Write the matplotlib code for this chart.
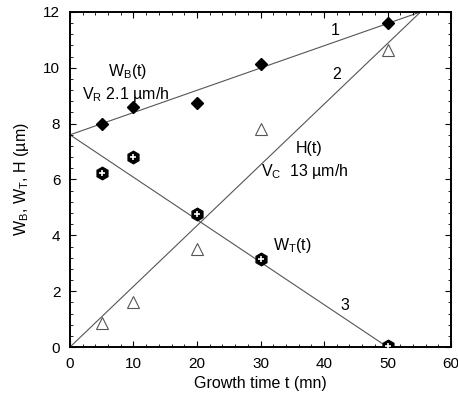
import numpy as np
import matplotlib.pyplot as plt
from matplotlib.ticker import MultipleLocator

plt.rcParams['font.family'] = ['Liberation Sans', 'DejaVu Sans']

# --- data ---
t = [5, 10, 20, 30, 50]
w_b = [8.0, 8.6, 8.75, 10.15, 11.6]
w_t = [6.25, 6.8, 4.75, 3.15, 0.05]
h = [0.85, 1.6, 3.5, 7.8, 10.65]

# fitted lines (endpoints)
line1_t = [0, 55.2]
line1_y = [7.6, 12.0]
line2_t = [0, 55.2]
line2_y = [0.0, 12.0]
line3_t = [0, 50]
line3_y = [7.6, 0.0]

fig = plt.figure(figsize=(4.58, 3.98), dpi=100)
ax = fig.add_axes([0.1528, 0.128, 0.832, 0.842])

lc = '#555555'
ax.plot(line1_t, line1_y, color=lc, lw=0.8, zorder=1)
ax.plot(line2_t, line2_y, color=lc, lw=0.8, zorder=1)
ax.plot(line3_t, line3_y, color=lc, lw=0.8, zorder=1)

ax.plot(t, w_b, ls='none', marker='D', ms=6.5, color='black', zorder=3)
ax.plot(t, h, ls='none', marker='^', ms=9, mfc='white', mec='#555555', mew=0.8, zorder=3)
ax.plot(t, w_t, ls='none', marker='h', ms=9, color='black', zorder=3)
ax.plot(t, w_t, ls='none', marker='+', ms=4, mew=1.2, color='white', zorder=4)

ax.set_xlim(0, 60)
ax.set_ylim(0, 12)
ax.xaxis.set_major_locator(MultipleLocator(10))
ax.xaxis.set_minor_locator(MultipleLocator(2))
ax.yaxis.set_major_locator(MultipleLocator(2))
ax.yaxis.set_minor_locator(MultipleLocator(0.4))
ax.tick_params(which='both', direction='in', top=True, right=True, labelsize=11)
ax.tick_params(which='major', length=4, width=0.8, pad=7)
ax.tick_params(which='minor', length=2, width=0.6)
for s in ax.spines.values():
    s.set_linewidth(1.4)

ax.set_xlabel('Growth time t (mn)', fontsize=11.5, labelpad=4)
ax.set_ylabel('W$_\\mathregular{B}$, W$_\\mathregular{T}$, H (µm)', fontsize=11.5, labelpad=9)

fs = 11.5
ax.text(9.1, 9.85, 'W$_\\mathregular{B}$(t)', fontsize=fs, ha='center', va='center')
ax.text(8.7, 9.05, 'V$_\\mathregular{R}$ 2.1 µm/h', fontsize=fs, ha='center', va='center')
ax.text(41.7, 11.35, '1', fontsize=fs, ha='center', va='center')
ax.text(42.0, 9.75, '2', fontsize=fs, ha='center', va='center')
ax.text(37.6, 7.1, 'H(t)', fontsize=fs, ha='center', va='center')
ax.text(37.0, 6.3, 'V$_\\mathregular{C}$  13 µm/h', fontsize=fs, ha='center', va='center')
ax.text(35.0, 3.65, 'W$_\\mathregular{T}$(t)', fontsize=fs, ha='center', va='center')
ax.text(43.3, 1.5, '3', fontsize=fs, ha='center', va='center')

fig.savefig('out.png', dpi=100)
